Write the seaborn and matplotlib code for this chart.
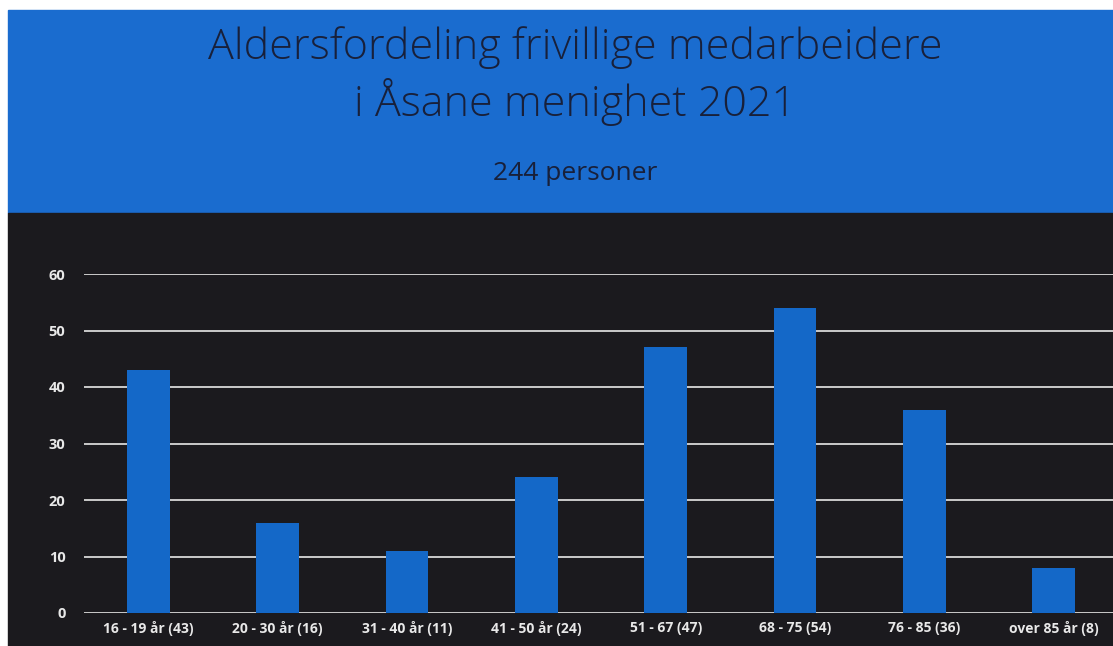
import numpy as np
import matplotlib.pyplot as plt
import seaborn as sns
import pandas as pd
from matplotlib.patches import Rectangle

# data
categories = ["16 - 19 år (43)", "20 - 30 år (16)", "31 - 40 år (11)", "41 - 50 år (24)",
              "51 - 67 (47)", "68 - 75 (54)", "76 - 85 (36)", "over 85 år (8)"]
counts = [43, 16, 11, 24, 47, 54, 36, 8]
yticks = [0, 10, 20, 30, 40, 50, 60]

df = pd.DataFrame({"kategori": categories, "antall": counts})

sns.set_theme(style="dark")
plt.rcParams['font.family'] = ['Open Sans', 'DejaVu Sans']

W, H = 1113, 646
fig = plt.figure(figsize=(W / 100, H / 100), dpi=100)
fig.patch.set_facecolor("white")

# blue header and dark panel
fig.patches.append(Rectangle((8 / W, (H - 213) / H), 1, 203 / H,
                             transform=fig.transFigure, color="#1a6ccf", zorder=-5))
fig.patches.append(Rectangle((8 / W, 0), 1, (H - 213) / H,
                             transform=fig.transFigure, color="#1b1a1e", zorder=-5))

fig.text(575 / W, 1 - 48 / H, "Aldersfordeling frivillige medarbeidere",
         ha="center", va="center", fontsize=31, color="#18203a", fontweight="light")
fig.text(575 / W, 1 - 102 / H, "i Åsane menighet 2021",
         ha="center", va="center", fontsize=31, color="#18203a", fontweight="light")
fig.text(575 / W, 1 - 173 / H, "244 personer",
         ha="center", va="center", fontsize=19, color="#18203a")

ax = fig.add_axes([83.5 / W, (H - 613) / H, 1035 / W, 339 / H])
ax.set_facecolor("none")
sns.barplot(data=df, x="kategori", y="antall", color="#1468c8", width=0.33,
            saturation=1, linewidth=0, ax=ax, zorder=3)

ax.set_ylim(0, 60)
ax.set_yticks(yticks)
ax.set_axisbelow(True)
ax.yaxis.grid(True, color="#d8d8d8", linewidth=1.3)
ax.xaxis.grid(False)
for s in ax.spines.values():
    s.set_visible(False)
ax.set_xlabel("")
ax.set_ylabel("")
ax.tick_params(axis="y", length=0, pad=13, labelsize=10.5, labelcolor="#e8e8e8")
ax.tick_params(axis="x", length=0, pad=6, labelsize=10, labelcolor="#e8e8e8")
for lab in ax.get_xticklabels() + ax.get_yticklabels():
    lab.set_fontweight("bold")

fig.savefig("out.png", dpi=100)
